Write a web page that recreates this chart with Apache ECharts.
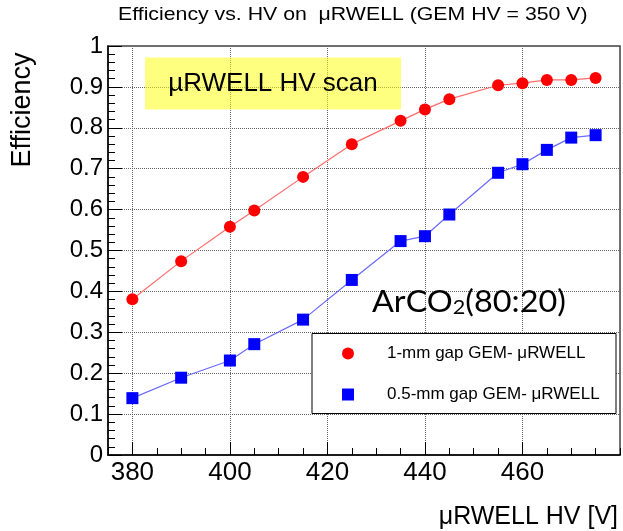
<!DOCTYPE html>
<html>
<head>
<meta charset="utf-8">
<script src="https://cdn.jsdelivr.net/npm/echarts@6/dist/echarts.min.js"></script>
<style>
  html, body { margin: 0; padding: 0; background: #fff; }
  #chart { width: 623px; height: 531px; }
</style>
</head>
<body>
<div id="chart"></div>
<script>
// HV points [V] and efficiencies
const hv1mm = [380, 390, 400, 405, 415, 425, 435, 440, 445, 455, 460, 465, 470, 475]
const eff1mm = [0.381, 0.474, 0.558, 0.598, 0.680, 0.760, 0.817, 0.845, 0.870, 0.904, 0.909, 0.917, 0.917, 0.922]
const hv05mm = [380, 390, 400, 405, 415, 425, 435, 440, 445, 455, 460, 465, 470, 475]
const eff05mm = [0.139, 0.189, 0.231, 0.271, 0.331, 0.428, 0.523, 0.535, 0.588, 0.690, 0.711, 0.746, 0.776, 0.782]
const seriesNames = ['1-mm gap GEM- \u03bcRWELL', '0.5-mm gap GEM- \u03bcRWELL']

const font = '"Liberation Sans", Arial, Helvetica, sans-serif'
const pairs = (xs, ys) => xs.map((x, i) => [x, ys[i]])

const myChart = echarts.init(document.getElementById('chart'))
const option = {
    animation: false,
    backgroundColor: '#fff',
    grid: {
        left: 108,
        right: 3,
        top: 46,
        bottom: 76,
        show: true,
        borderColor: '#444',
        borderWidth: 1.5,
        backgroundColor: 'transparent'
    },
    xAxis: [
    {
        type: 'value',
        min: 375,
        max: 480,
        splitNumber: 5,
        axisLine: { lineStyle: { color: '#000', width: 1.5 } },
        axisTick: { inside: true, length: 13, lineStyle: { color: '#000', width: 1 } },
        axisLabel: {
            margin: 5,
            showMinLabel: false,
            showMaxLabel: false,
            fontFamily: font, fontSize: 26, color: '#000',
            formatter: v => (v % 20 === 0 && v < 480) ? String(v) : ''
        },
        splitLine: { show: true, lineStyle: { color: '#666', type: 'dotted', width: 1 } }
    },
    {
        // minor ticks every 5 V
        type: 'value',
        position: 'bottom',
        min: 375,
        max: 480,
        interval: 5,
        axisLine: { show: false },
        axisTick: { inside: true, length: 7, lineStyle: { color: '#000', width: 1 } },
        axisLabel: { show: false },
        splitLine: { show: false }
    }],
    yAxis: {
        type: 'value',
        min: 0,
        max: 1,
        interval: 0.1,
        axisLine: { show: true, lineStyle: { color: '#000', width: 1.5 } },
        axisTick: { show: true, inside: true, length: 14, lineStyle: { color: '#000', width: 1 } },
        minorTick: { show: true, splitNumber: 5, length: 7, lineStyle: { color: '#000', width: 1 } },
        axisLabel: { margin: 5, fontFamily: font, fontSize: 24, color: '#000' },
        splitLine: { show: true, lineStyle: { color: '#666', type: 'dotted', width: 1 } }
    },
    legend: {
        orient: 'vertical',
        left: 342,
        top: 345,
        padding: 0,
        itemGap: 24,
        itemWidth: 12,
        itemHeight: 12,
        z: 6,
        textStyle: { fontFamily: font, fontSize: 17, color: '#000', padding: [0, 0, 0, 28] },
        data: [
            { name: seriesNames[0], icon: 'circle' },
            { name: seriesNames[1], icon: 'rect' }
        ]
    },
    graphic: [
    {
        type: 'text',
        z: 7,
        x: 118,
        y: 15,
        scaleX: 1.15,
        style: {
            text: 'Efficiency vs. HV on  \u03bcRWELL (GEM HV = 350 V)',
            font: '18.5px ' + font,
            fill: '#000',
            align: 'left',
            verticalAlign: 'middle'
        }
    },
    {
        type: 'rect',
        z: 1,
        shape: { x: 145, y: 57.5, width: 256, height: 52 },
        style: { fill: 'rgba(255,255,0,0.5)' }
    },
    {
        type: 'text',
        z: 7,
        x: 273,
        y: 84,
        style: {
            text: '\u00b5RWELL HV scan',
            font: '26px ' + font,
            fill: '#000',
            align: 'center',
            verticalAlign: 'middle'
        }
    },
    {
        type: 'text',
        z: 7,
        x: 372,
        y: 287.5,
        scaleX: 1.08,
        style: {
            text: '{a|ArCO}{s|2}{a|(80:20)}',
            align: 'left',
            verticalAlign: 'top',
            rich: {
                a: { fontFamily: 'Lato, "Open Sans", sans-serif', fontSize: 30, lineHeight: 30, verticalAlign: 'top', color: '#000' },
                s: { fontFamily: 'Lato, "Open Sans", sans-serif', fontSize: 20, lineHeight: 20, padding: [17, 0, 0, 0], verticalAlign: 'bottom', color: '#000' }
            }
        }
    },
    {
        type: 'rect',
        z: 5,
        shape: { x: 312, y: 333.5, width: 304, height: 80 },
        style: { fill: '#fff', stroke: '#000', lineWidth: 1 }
    },
    {
        type: 'text',
        z: 7,
        x: 23,
        y: 110,
        rotation: Math.PI / 2,
        style: {
            text: 'Efficiency',
            font: '27px ' + font,
            fill: '#000',
            align: 'center',
            verticalAlign: 'middle'
        }
    },
    {
        type: 'text',
        z: 7,
        x: 618,
        y: 517,
        style: {
            text: '\u03bcRWELL HV [V]',
            font: '25px ' + font,
            fill: '#000',
            align: 'right',
            verticalAlign: 'middle'
        }
    }],
    series: [
    {
        name: seriesNames[0],
        type: 'line',
        data: pairs(hv1mm, eff1mm),
        symbol: 'circle',
        symbolSize: 12,
        itemStyle: { color: '#ff0000' },
        lineStyle: { color: '#ff6a6a', width: 1.2 },
        z: 3
    },
    {
        name: seriesNames[1],
        type: 'line',
        data: pairs(hv05mm, eff05mm),
        symbol: 'rect',
        symbolSize: 12,
        itemStyle: { color: '#0000ff' },
        lineStyle: { color: '#6a6aff', width: 1.2 },
        z: 3
    }]
}
myChart.setOption(option)
</script>
</body>
</html>
